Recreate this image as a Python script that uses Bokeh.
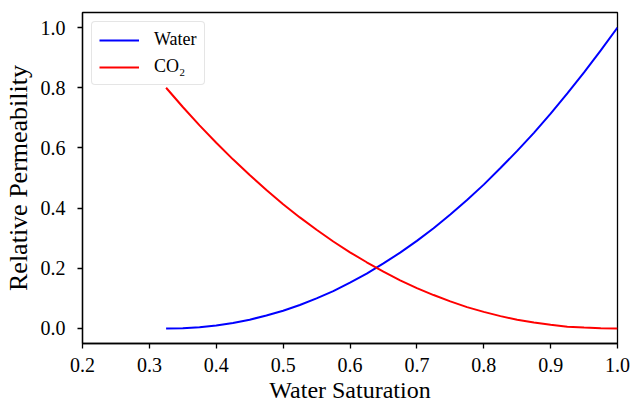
from bokeh.plotting import figure
from bokeh.models import Range1d, Legend, LegendItem, FixedTicker
from bokeh.embed import file_html
from bokeh.resources import INLINE

# Data
water_saturation = [0.325, 0.35, 0.375, 0.40, 0.425, 0.45, 0.475, 0.50, 0.525, 0.55,
                    0.575, 0.60, 0.625, 0.65, 0.675, 0.70, 0.725, 0.75, 0.775, 0.80,
                    0.825, 0.85, 0.875, 0.90, 0.925, 0.95, 0.975, 1.00]
kr_water = [0.000, 0.001, 0.004, 0.010, 0.018, 0.029, 0.043, 0.059, 0.078, 0.100,
            0.124, 0.152, 0.182, 0.216, 0.252, 0.291, 0.333, 0.379, 0.427, 0.478,
            0.533, 0.590, 0.650, 0.714, 0.781, 0.851, 0.924, 1.000]
kr_co2 = [0.800, 0.736, 0.675, 0.617, 0.562, 0.510, 0.460, 0.413, 0.369, 0.328,
          0.289, 0.253, 0.220, 0.189, 0.160, 0.134, 0.111, 0.090, 0.071, 0.055,
          0.041, 0.029, 0.020, 0.012, 0.006, 0.003, 0.001, 0.000]
x_ticks = [0.2, 0.3, 0.4, 0.5, 0.6, 0.7, 0.8, 0.9, 1.0]
y_ticks = [0.0, 0.2, 0.4, 0.6, 0.8, 1.0]

FONT = "Liberation Serif"

p = figure(width=632, height=405, output_backend="svg", toolbar_location=None,
           x_range=Range1d(0.2, 1.0), y_range=Range1d(-0.05, 1.05),
           min_border_left=82, min_border_right=15, min_border_top=12, min_border_bottom=60)

r_w = p.line(water_saturation, kr_water, line_color="#0000ff", line_width=2)
r_g = p.line(water_saturation, kr_co2, line_color="#ff0000", line_width=2)

p.grid.visible = False
p.outline_line_color = "black"
p.outline_line_width = 1.3
p.outline_line_alpha = 1.0

p.xaxis.axis_line_width = 1.3
p.yaxis.axis_line_width = 1.3
p.xaxis.major_tick_line_width = 1.3
p.yaxis.major_tick_line_width = 1.3
p.xaxis.major_tick_in = 0
p.yaxis.major_tick_in = 0
p.xaxis.major_tick_out = 5
p.yaxis.major_tick_out = 5
p.xaxis.minor_tick_line_color = None
p.yaxis.minor_tick_line_color = None
p.xaxis.major_label_text_font = FONT
p.yaxis.major_label_text_font = FONT
p.xaxis.major_label_text_font_size = "20px"
p.yaxis.major_label_text_font_size = "20px"
p.xaxis.major_label_text_color = "black"
p.yaxis.major_label_text_color = "black"
p.xaxis.axis_label_text_font = FONT
p.yaxis.axis_label_text_font = FONT
p.xaxis.axis_label_text_font_style = "normal"
p.yaxis.axis_label_text_font_style = "normal"
p.xaxis.axis_label_text_color = "black"
p.yaxis.axis_label_text_color = "black"

p.xaxis.ticker = FixedTicker(ticks=x_ticks)
p.yaxis.ticker = FixedTicker(ticks=y_ticks)
p.xaxis.major_label_overrides = {t: f"{t:.1f}" for t in x_ticks}
p.yaxis.major_label_overrides = {t: f"{t:.1f}" for t in y_ticks}
p.xaxis.axis_label = "Water Saturation"
p.yaxis.axis_label = "Relative Permeability"
p.xaxis.axis_label_text_font_size = "24px"
p.yaxis.axis_label_text_font_size = "26px"
p.xaxis.major_label_standoff = 9
p.yaxis.major_label_standoff = 12
p.xaxis.axis_label_standoff = 2
p.yaxis.axis_label_standoff = 5

legend = Legend(items=[LegendItem(label="Water", renderers=[r_w]),
                       LegendItem(label="CO₂", renderers=[r_g])],
                location="top_left")
legend.margin = 9
legend.padding = 7
legend.spacing = 6
legend.glyph_width = 40
legend.glyph_height = 20
legend.label_height = 20
legend.label_standoff = 15
legend.label_text_font = FONT
legend.label_text_font_size = "18px"
legend.label_text_color = "black"
legend.border_line_color = "#cccccc"
legend.border_line_width = 1
legend.background_fill_alpha = 0.8
legend.border_radius = 4
p.add_layout(legend)

open("out.html", "w").write(file_html(p, INLINE))
